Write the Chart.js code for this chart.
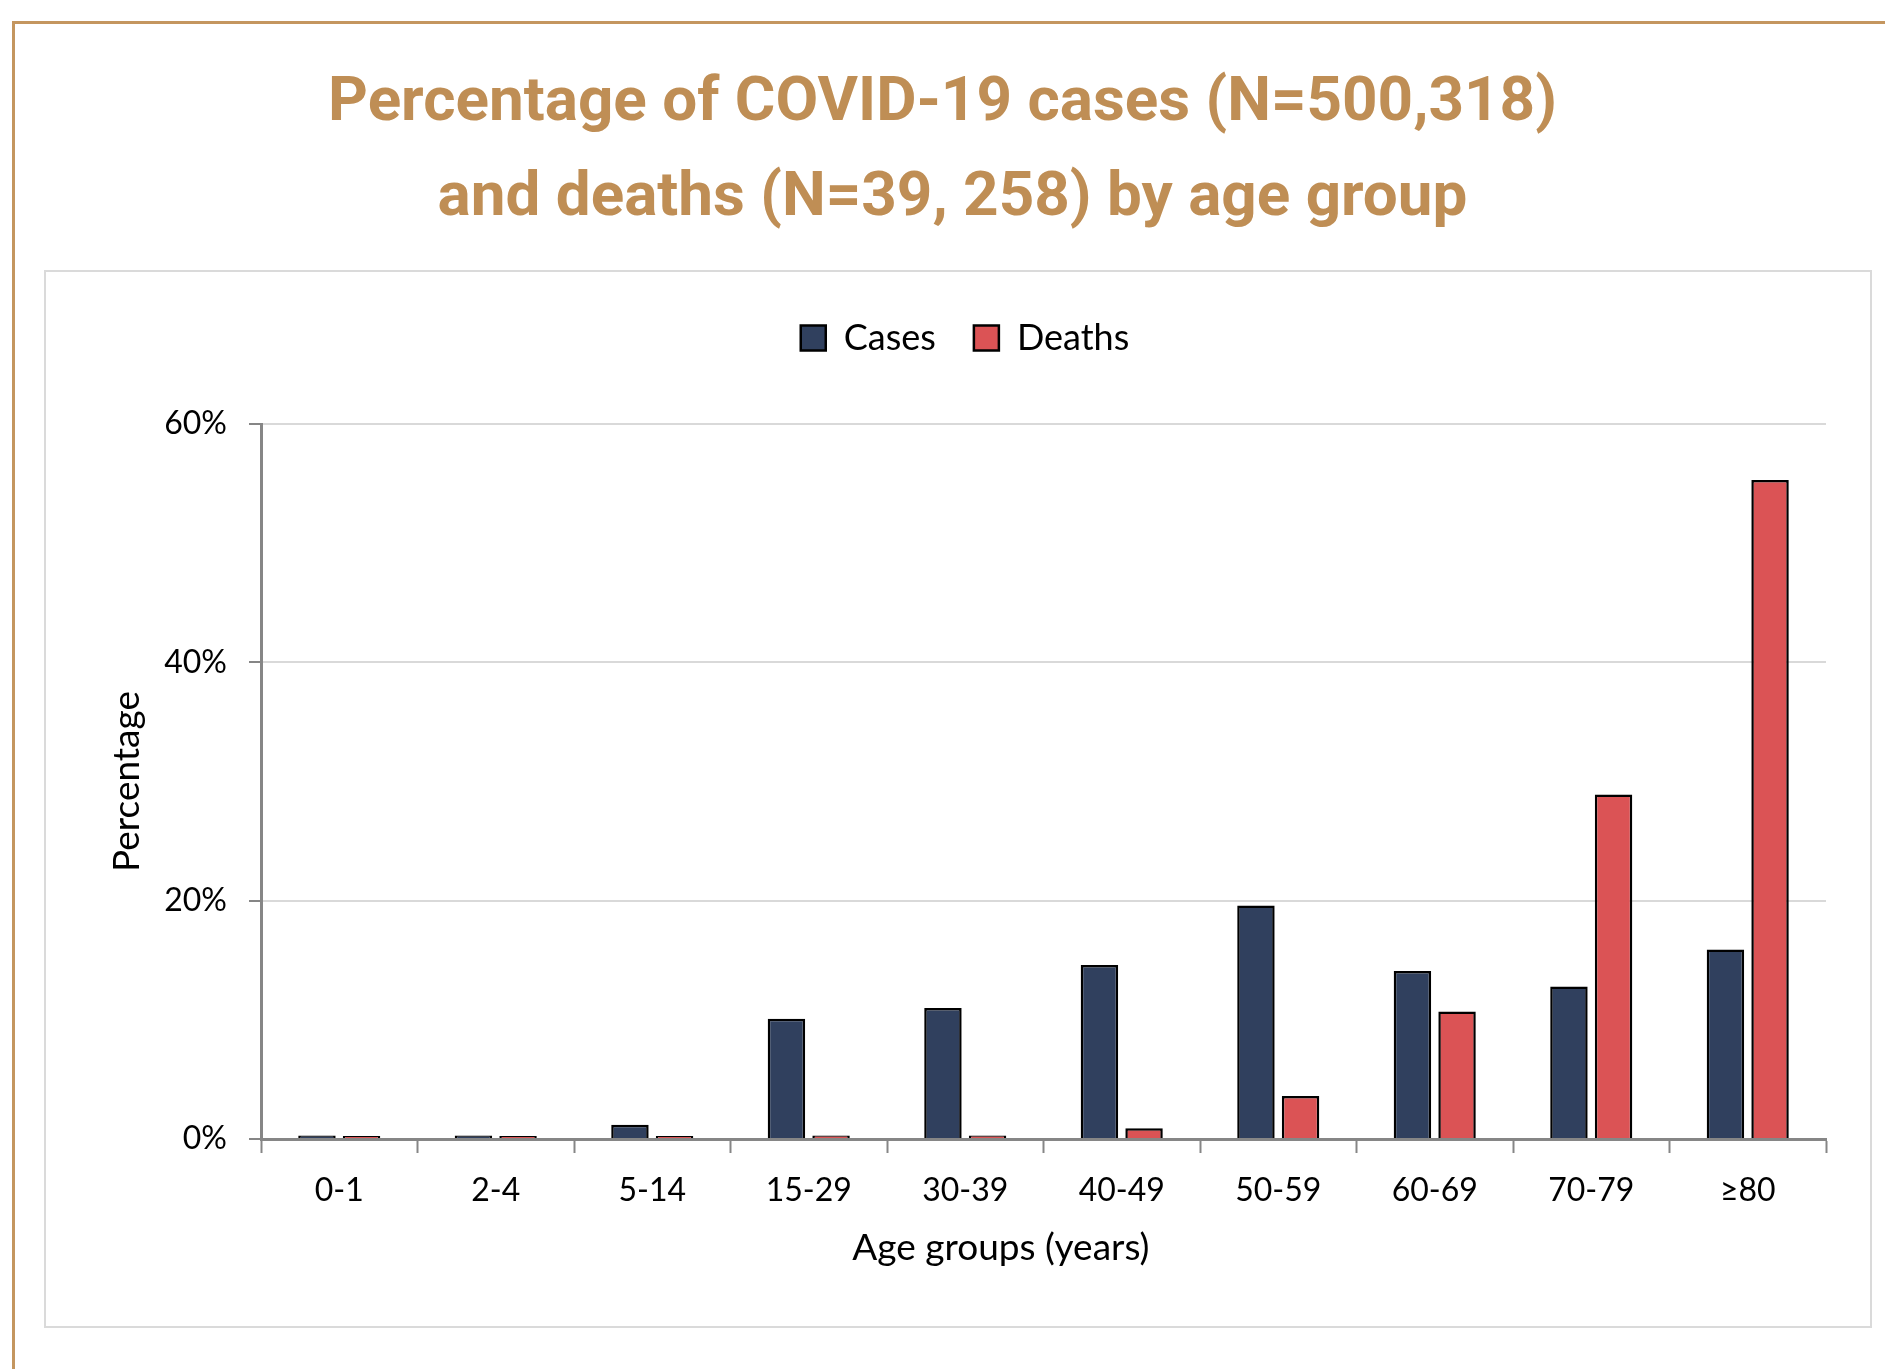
<!DOCTYPE html>
<html>
<head>
<meta charset="utf-8">
<script src="https://cdn.jsdelivr.net/npm/chart.js@4.4.0/dist/chart.umd.min.js"></script>
<style>
    body { margin: 0; width: 1885px; height: 1369px; background: #fff; position: relative; overflow: hidden; }
    .frame { position: absolute; left: 12px; top: 21px; width: 1900px; height: 1400px; border-left: 3px solid #c4965f; border-top: 3px solid #c4965f; }
    .title { position: absolute; left: 0; width: 1885px; text-align: center; font-family: Roboto, sans-serif; font-weight: bold; color: #bf8e55; font-size: 62px; }
    .box { position: absolute; left: 44px; top: 270px; width: 1824px; height: 1054px; border: 2px solid #dadada; }
    #chartWrap { position: absolute; left: 46px; top: 272px; width: 1824px; height: 1054px; }
</style>
</head>
<body>
<div class="frame"></div>
<div class="title" style="top:62px">Percentage of COVID-19 cases (N=500,318)</div>
<div class="title" style="top:157px; left:10px">and deaths (N=39, 258) by age group</div>
<div class="box"></div>
<div id="chartWrap"><canvas id="ageChart"></canvas></div>

<script>
// Chart data
const ageGroups = ['0-1', '2-4', '5-14', '15-29', '30-39', '40-49', '50-59', '60-69', '70-79', '≥80'];
const casesPct = [0.3, 0.3, 1.2, 10.1, 11.0, 14.6, 19.6, 14.1, 12.8, 15.9];
const deathsPct = [0.25, 0.25, 0.25, 0.3, 0.3, 0.9, 3.6, 10.7, 28.9, 55.3];
const yTickValues = [0, 20, 40, 60];

// extra space under the legend, before the plot
const legendGap = {
    id: 'legendGap',
    beforeInit(chart) {
        const origFit = chart.legend.fit;
        chart.legend.fit = function () {
            origFit.call(this);
            this.height += 58;
        };
    }
};

document.addEventListener('DOMContentLoaded', () => {
    const tickFont = { family: 'Lato, sans-serif', size: 32 };
    const titleFont = { family: 'Lato, sans-serif', size: 37 };
    const axisGray = '#868686';

    const ctx = document.getElementById('ageChart').getContext('2d');
    new Chart(ctx, {
        type: 'bar',
        data: {
            labels: ageGroups,
            datasets: [{
                label: 'Cases',
                data: casesPct,
                backgroundColor: '#30405e',
                borderColor: '#000',
                borderWidth: 2.5
            }, {
                label: 'Deaths',
                data: deathsPct,
                backgroundColor: '#db5355',
                borderColor: '#000',
                borderWidth: 2.5
            }]
        },
        plugins: [legendGap],
        options: {
            responsive: true,
            maintainAspectRatio: false,
            animation: false,
            datasets: {
                bar: { categoryPercentage: 0.57, barPercentage: 0.84 }
            },
            layout: { padding: { top: 10, right: 44, left: 58, bottom: 0 } },
            plugins: {
                legend: {
                    position: 'top',
                    labels: {
                        color: '#000',
                        font: { family: 'Lato, sans-serif', size: 36 },
                        boxWidth: 25,
                        boxHeight: 25,
                        padding: 38
                    }
                },
                tooltip: { enabled: false }
            },
            scales: {
                x: {
                    grid: {
                        offset: true,
                        drawOnChartArea: false,
                        tickLength: 14,
                        tickColor: axisGray,
                        tickWidth: 2
                    },
                    border: { color: axisGray, width: 3 },
                    ticks: { color: '#000', font: tickFont, padding: 18 },
                    title: {
                        display: true,
                        // trailing spaces nudge the centred title left like the original
                        text: 'Age groups (years)' + '\u00A0'.repeat(9),
                        color: '#000',
                        font: titleFont,
                        padding: { top: 4, bottom: 56 }
                    },
                    afterFit: (scale) => { scale.height = 187; }
                },
                y: {
                    min: 0,
                    max: 60,
                    afterBuildTicks: (scale) => {
                        scale.ticks = yTickValues.map(v => ({ value: v }));
                    },
                    grid: {
                        color: '#d9d9d9',
                        lineWidth: 2,
                        tickLength: 12,
                        tickColor: axisGray,
                        tickWidth: 2
                    },
                    border: { color: axisGray, width: 3 },
                    ticks: {
                        color: '#000',
                        font: tickFont,
                        padding: 22,
                        callback: (value) => value + '%'
                    },
                    title: {
                        display: true,
                        text: 'Percentage',
                        color: '#000',
                        font: titleFont,
                        padding: { top: 1, bottom: 0 }
                    },
                    afterFit: (scale) => { scale.width = 157; }
                }
            }
        }
    });
});
</script>
</body>
</html>
